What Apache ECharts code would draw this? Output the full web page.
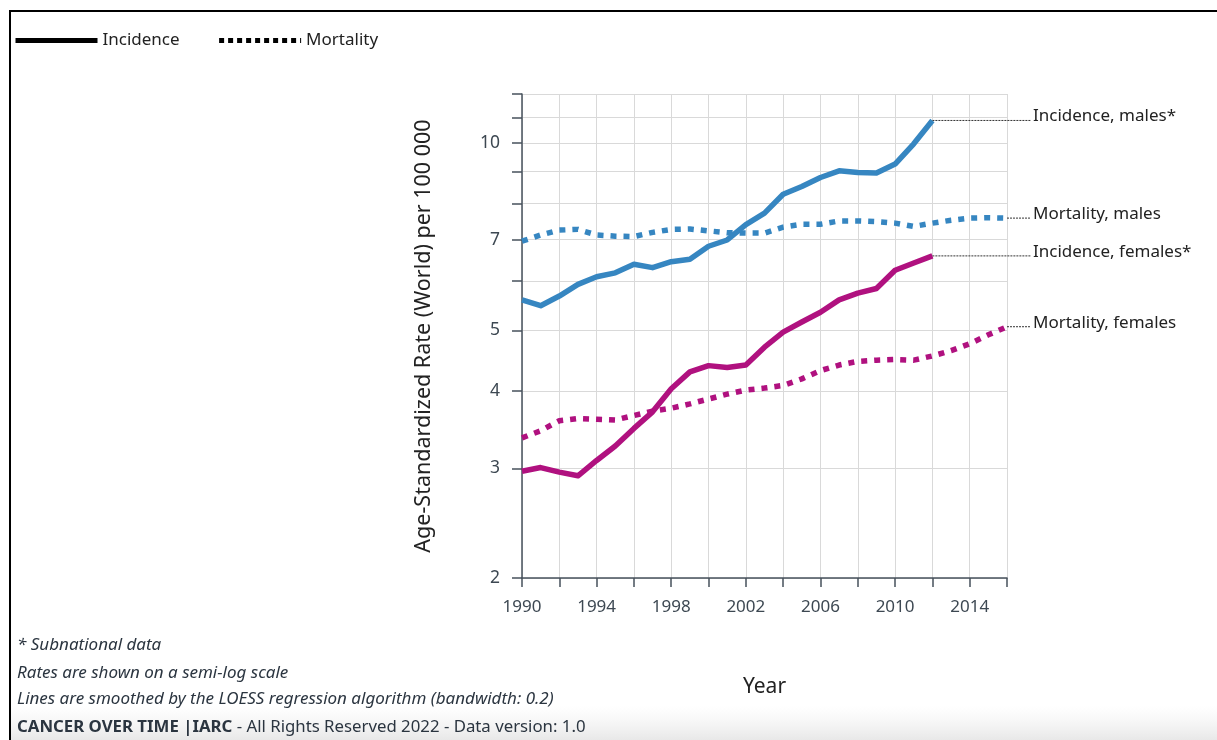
<!DOCTYPE html>
<html><head><meta charset="utf-8">
<script src="https://cdn.jsdelivr.net/npm/echarts@6/dist/echarts.min.js"></script>
<style>html,body{margin:0;padding:0;background:#fff}#c{width:1217px;height:740px}</style>
</head><body><div id="c"></div>
<script>
// ---- data ----
const yearsAll = [1990,1991,1992,1993,1994,1995,1996,1997,1998,1999,2000,2001,2002,2003,2004,2005,2006,2007,2008,2009,2010,2011,2012,2013,2014,2015,2016];
const yearsInc = [1990,1991,1992,1993,1994,1995,1996,1997,1998,1999,2000,2001,2002,2003,2004,2005,2006,2007,2008,2009,2010,2011,2012];
const incidenceMales   = [5.60,5.48,5.68,5.93,6.10,6.19,6.39,6.31,6.45,6.51,6.83,6.99,7.40,7.72,8.28,8.52,8.81,9.03,8.97,8.96,9.26,9.98,10.88];
const incidenceFemales = [2.97,3.01,2.96,2.92,3.09,3.26,3.48,3.70,4.03,4.29,4.39,4.36,4.40,4.70,4.97,5.16,5.35,5.60,5.74,5.84,6.25,6.42,6.59];
const mortalityMales   = [6.96,7.12,7.25,7.27,7.12,7.09,7.08,7.19,7.27,7.28,7.23,7.18,7.17,7.17,7.33,7.41,7.41,7.50,7.50,7.48,7.44,7.35,7.44,7.52,7.58,7.59,7.58];
const mortalityFemales = [3.36,3.45,3.58,3.61,3.60,3.59,3.65,3.71,3.75,3.81,3.88,3.95,4.01,4.04,4.08,4.18,4.31,4.40,4.46,4.48,4.49,4.48,4.55,4.64,4.76,4.92,5.07];
const yLabelTicks = [2,3,4,5,7,10];
const yGridTicks  = [2,3,4,5,6,7,8,9,10,11,12];
const seriesNames = ['Incidence, males*','Mortality, males','Incidence, females*','Mortality, females'];
const legendNames = ['Incidence','Mortality'];
const footnotes = ['* Subnational data','Rates are shown on a semi-log scale','Lines are smoothed by the LOESS regression algorithm (bandwidth: 0.2)'];

const BLUE = '#3686c1', MAG = '#b0117f';
const FONT = "'Noto Sans', 'Open Sans', sans-serif";
const LABEL_LEFT = 1031;

function pairs(xs, ys){ return ys.map((v,i)=>[xs[i], v]); }

const lineDefs = [
  {name:seriesNames[0], xs:yearsInc, ys:incidenceMales,   color:BLUE, dotted:false},
  {name:seriesNames[1], xs:yearsAll, ys:mortalityMales,   color:BLUE, dotted:true},
  {name:seriesNames[2], xs:yearsInc, ys:incidenceFemales, color:MAG,  dotted:false},
  {name:seriesNames[3], xs:yearsAll, ys:mortalityFemales, color:MAG,  dotted:true}
];

function mkSeries(d){
  return {
    name:d.name, type:'line', data: pairs(d.xs, d.ys), showSymbol:false, symbol:'none', clip:false,
    smooth:false, z:3,
    lineStyle:{color:d.color, width:5.5, type: d.dotted ? [6,7] : 'solid', cap:'butt', join:'round'},
    itemStyle:{color:d.color}
  };
}

const footStyle = {fontStyle:'italic', fill:'#2b3540', fontFamily:FONT};
const baseGraphics = [
  {id:'bg', type:'rect', z:-10, silent:true, shape:{x:11, y:706, width:1206, height:34},
    style:{fill:new echarts.graphic.LinearGradient(0,0,0,1,[{offset:0,color:'rgba(240,240,240,0)'},{offset:1,color:'rgba(232,232,232,1)'}])}},
  {id:'bt', type:'line', silent:true, shape:{x1:10, y1:11, x2:1217, y2:11}, style:{stroke:'#000', lineWidth:2}},
  {id:'bl', type:'line', silent:true, shape:{x1:10, y1:10, x2:10, y2:740}, style:{stroke:'#000', lineWidth:2}},
  {id:'f0', type:'text', silent:true, left:17, top:637, style:Object.assign({text:footnotes[0], fontSize:17}, footStyle)},
  {id:'f1', type:'text', silent:true, left:17, top:665, style:Object.assign({text:footnotes[1], fontSize:17}, footStyle)},
  {id:'f2', type:'text', silent:true, left:17, top:691, style:Object.assign({text:footnotes[2], fontSize:17}, footStyle)},
  {id:'f3', type:'text', silent:true, left:17, top:719, style:{
    text:'{b|CANCER OVER TIME |IARC}{r| - All Rights Reserved 2022 - Data version: 1.0}',
    fontSize:17, fill:'#2b3540', fontFamily:FONT,
    rich:{
      b:{fontWeight:'bold', fontSize:16.8, fill:'#2b3540', fontFamily:FONT},
      r:{fontSize:16.8, fill:'#2b3540', fontFamily:FONT}
    }}}
];

const chart = echarts.init(document.getElementById('c'), null, {renderer:'canvas'});
chart.setOption({
  animation:false,
  backgroundColor:'#fff',
  textStyle:{fontFamily:FONT},
  legend:{
    data: [
      {name:legendNames[0], lineStyle:{width:5, color:'#000', type:'solid'}},
      {name:legendNames[1], lineStyle:{width:5, color:'#000', type:[5,4]}}
    ],
    left:8, top:27, itemWidth:82, itemHeight:14, itemGap:37,
    selectedMode:false,
    itemStyle:{color:'rgba(0,0,0,0)', borderColor:'rgba(0,0,0,0)', borderWidth:0},
    textStyle:{fontSize:17, color:'#222', fontFamily:FONT}
  },
  grid:{left:522, top:94, width:485, height:484, containLabel:false},
  xAxis:{
    type:'value', min:1990, max:2016, interval:2,
    name:'Year', nameLocation:'middle', nameGap:99,
    nameTextStyle:{fontSize:21, color:'#222', fontFamily:FONT},
    axisLine:{show:true, lineStyle:{color:'#47525c', width:1.5}},
    axisTick:{show:true, length:9, lineStyle:{color:'#47525c', width:1.5}},
    axisLabel:{fontSize:17, color:'#3d4852', margin:21, fontFamily:FONT,
      formatter: v => ((v-1990)%4===0 ? String(v) : '')},
    splitLine:{show:true, lineStyle:{color:'#d9d9d9', width:1}}
  },
  yAxis:{
    type:'log', logBase:10, min:2, max:12,
    name:'Age-Standardized Rate (World) per 100 000', nameLocation:'middle', nameGap:87,
    nameTextStyle:{fontSize:21.5, color:'#222', fontFamily:FONT},
    axisLine:{show:true, lineStyle:{color:'#47525c', width:1.5}},
    axisTick:{show:true, length:10, customValues: yGridTicks, lineStyle:{color:'#47525c', width:1.5}},
    axisLabel:{fontSize:17.5, color:'#3d4852', margin:22, fontFamily:FONT, customValues: yLabelTicks},
    splitLine:{show:true, lineStyle:{color:'#d9d9d9', width:1}}
  },
  series:[
    {name:legendNames[0], type:'line', data:[], symbol:'none', itemStyle:{color:'#000'}, lineStyle:{color:'#000', width:5}},
    {name:legendNames[1], type:'line', data:[], symbol:'none', itemStyle:{color:'#000'}, lineStyle:{color:'#000', width:5, type:[5,4]}},
  ].concat(lineDefs.map(mkSeries)),
  graphic: baseGraphics
});

// end-of-line labels with connectors, positioned through the chart's own scales
const endGraphics = [];
lineDefs.forEach((d, i) => {
  const last = d.ys.length - 1;
  const p = chart.convertToPixel({gridIndex:0}, [d.xs[last], d.ys[last]]);
  endGraphics.push({id:'c'+i, type:'line', silent:true, z:2,
    shape:{x1:p[0], y1:p[1], x2:LABEL_LEFT, y2:p[1]},
    style:{stroke:'#333', lineWidth:1, lineDash:[2,1]}});
  endGraphics.push({id:'t'+i, type:'text', silent:true, z:5, x:LABEL_LEFT+2, y:p[1]-4,
    style:{text:d.name, fontSize:17, fill:'#222', fontFamily:FONT, verticalAlign:'middle', align:'left'}});
});
chart.setOption({graphic: baseGraphics.concat(endGraphics)});
</script>
</body></html>
